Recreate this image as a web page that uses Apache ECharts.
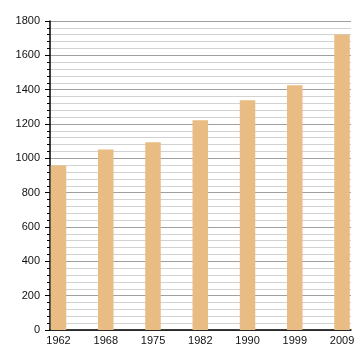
<!DOCTYPE html>
<html>
<head>
<meta charset="utf-8">
<script src="https://cdn.jsdelivr.net/npm/echarts@6/dist/echarts.min.js"></script>
<style>html,body{margin:0;padding:0;background:#fff}#c{width:360px;height:360px}</style>
</head>
<body>
<div id="c"></div>
<script>
var years = ['1962', '1968', '1975', '1982', '1990', '1999', '2009'];
var population = [958, 1051, 1094, 1222, 1338, 1426, 1721];
var yTicks = [0, 200, 400, 600, 800, 1000, 1200, 1400, 1600, 1800];

var chart = echarts.init(document.getElementById('c'), null, {renderer: 'canvas'});
var idx = years.map(function (y, i) { return i; });
chart.setOption({
  animation: false,
  backgroundColor: '#ffffff',
  grid: {left: 50, right: 9, top: 21, bottom: 30, containLabel: false},
  xAxis: {
    type: 'value',
    min: -0.18,
    max: 6.19,
    axisLine: {show: true, onZero: false, lineStyle: {color: '#000', width: 1.5}},
    axisTick: {show: false},
    splitLine: {show: false},
    axisLabel: {
      customValues: idx,
      formatter: function (v) { return years[Math.round(v)]; },
      color: '#111', fontFamily: 'Liberation Sans', fontSize: 11, margin: 5
    }
  },
  yAxis: {
    type: 'value',
    min: yTicks[0],
    max: yTicks[yTicks.length - 1],
    interval: 200,
    axisLine: {show: true, onZero: false, lineStyle: {color: '#000', width: 1.5}},
    axisTick: {show: true, length: 5, lineStyle: {color: '#000'}},
    minorTick: {show: true, splitNumber: 5, length: 3, lineStyle: {color: '#000'}},
    splitLine: {show: true, lineStyle: {color: '#a0a0a0', width: 1}},
    minorSplitLine: {show: true, lineStyle: {color: '#d2d2d2', width: 1}},
    axisLabel: {
      formatter: function (v) { return String(v); },
      color: '#111', fontFamily: 'Liberation Sans', fontSize: 11, margin: 10
    }
  },
  series: [{
    type: 'bar',
    barWidth: 15.5,
    itemStyle: {color: '#e8bc82'},
    data: population.map(function (v, i) { return [i, v]; })
  }]
});
</script>
</body>
</html>
